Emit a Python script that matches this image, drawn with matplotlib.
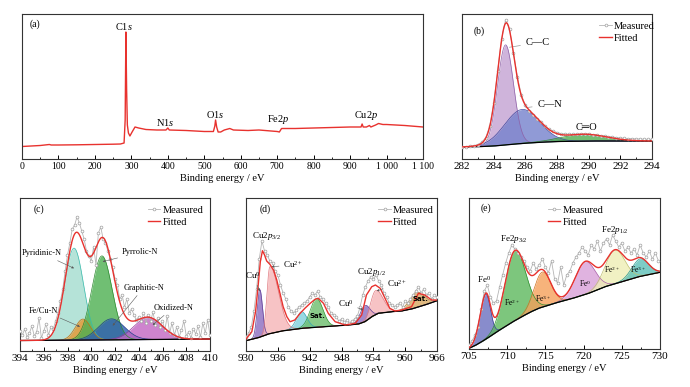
import numpy as np
import matplotlib
matplotlib.use('Agg')
import matplotlib.pyplot as plt
from matplotlib.ticker import MultipleLocator

plt.rcParams['font.family'] = ['Liberation Serif', 'DejaVu Serif']
plt.rcParams['mathtext.fontset'] = 'custom'
plt.rcParams['mathtext.rm'] = 'Liberation Serif'
plt.rcParams['mathtext.it'] = 'Liberation Serif:italic'

# ---- (a) survey spectrum
survey_x = [0, 50, 75, 80, 100, 150, 200, 250, 270, 280, 283, 285, 287, 289, 292, 296, 302,
            310, 320, 340, 370, 395, 400, 404, 450, 500, 525, 529, 531, 534, 538, 545, 555,
            570, 580, 620, 650, 700, 706, 712, 750, 800, 850, 900, 930, 933, 936, 945, 953,
            957, 970, 978, 990, 1000, 1050, 1100]
survey_y = [12.5, 13.5, 14.5, 14, 14, 14.2, 14.5, 14.8, 15, 16, 39, 127, 69, 34, 26, 23, 27,
            32, 31, 29.5, 29, 29, 31, 29, 28.5, 27.5, 27.5, 33, 39, 32, 27, 27, 29,
            30.5, 29, 28.5, 29, 27.5, 27, 30.5, 30.5, 31, 31.5, 32, 32, 35, 32, 32, 33.5,
            32, 34, 35.5, 34.5, 34.5, 33.5, 32]
survey_ticks = [0, 100, 200, 300, 400, 500, 600, 700, 800, 900, 1000, 1100]
survey_ticklabels = ['0', '100', '200', '300', '400', '500', '600', '700', '800', '900',
                     '1 000', '1 100']
survey_labels = [r'C1$\it{s}$', r'N1$\it{s}$', r'O1$\it{s}$', r'Fe2$\it{p}$', r'Cu2$\it{p}$']
survey_label_x = [280, 392, 529, 702, 943]
survey_label_y = [132, 36, 45, 39, 43]

# ---- (b) C1s
b_meas_y = [12.3, 12.4, 12.8, 13.2, 14.5, 16.8, 21.5, 33, 56, 88, 120, 139, 130, 106, 82, 64,
            54, 48.5, 44.5, 40, 37, 33, 30, 28, 26.5, 25.5, 25, 24.8, 24.8, 25, 25, 25, 24.8,
            24.5, 24, 23.5, 23, 22.5, 22, 21.5, 21, 20.8, 20.5, 20.3, 20.1, 20, 19.8, 19.7, 19.6]
b_bg_x = [282, 283, 284, 285, 286, 287, 288, 290, 294]
b_bg_y = [12, 12.3, 13, 14.5, 15.8, 16.8, 17.5, 18, 18]
b_center = [284.75, 285.8, 289.7]
b_height = [100, 34, 6.8]
b_sigma = [0.5, 1.1, 1.4]
b_colors = ['#c4a2d2', '#7481cc', '#4fae4f']
b_edges = ['#8e62a8', '#3f4aa0', '#2f8a2f']

# ---- (c) N1s
c_meas_y = [20, 16, 22, 14, 18, 25, 15, 19, 33, 13, 20, 27, 16, 24, 22, 30, 38, 50, 62, 80,
            96, 108, 122, 126, 134, 128, 120, 112, 100, 95, 90, 104, 86, 118, 124, 112, 108,
            100, 92, 84, 72, 66, 52, 56, 44, 52, 38, 42, 36, 31, 34, 30, 38, 28, 36, 30, 39,
            26, 33, 24, 30, 21, 35, 18, 28, 16, 24, 14, 21, 30, 15, 19, 13, 22, 17, 25, 14,
            28, 18, 31, 16]
c_bg_x = [394, 398, 402, 406, 410]
c_bg_y = [10.5, 10.8, 11.2, 11.6, 12]
c_center = [398.55, 399.3, 400.9, 401.7, 404.8]
c_height = [92, 21, 84, 21, 22]
c_sigma = [0.8, 0.65, 0.85, 1.1, 1.2]
c_colors = ['#a3dccf', '#e8962e', '#4caf50', '#2e5db2', '#c266c2']
c_edges = ['#3cbcae', '#c07010', '#2e8b32', '#1e3f8a', '#9a3a9a']
c_labels = ['Pyridinic-N', 'Pyrrolic-N', 'Graphitic-N', 'Oxidized-N', 'Fe/Cu-N']
c_label_xy = [(395.83, 97.7), (404.1, 98.7), (404.4, 63.3), (406.9, 43.3), (395.96, 40.3)]
c_arrow_xy = [(398.55, 82.7), (400.96, 89.3), (401.8, 25.3), (405.17, 26), (399.05, 24.3)]

# ---- (d) Cu2p
d_meas_y = [14, 18, 24, 40, 62, 92, 110, 100, 96, 90, 88, 80, 76, 66, 58, 52, 44, 40, 38, 41,
            44, 46, 48, 50, 54, 58, 56, 60, 54, 52, 48, 44, 38, 36, 34, 30, 32, 29, 31, 28, 30,
            32, 35, 44, 56, 64, 70, 74, 72, 76, 70, 66, 58, 54, 48, 46, 44, 46, 48, 44, 50, 48,
            52, 56, 60, 64, 58, 62, 56, 58, 52, 56, 54]
d_fit_x = [930, 931.1, 931.8, 932.3, 932.7, 933.1, 933.5, 933.9, 934.5, 935.2, 935.8, 936.4,
           937.0, 937.7, 938.3, 939.2, 940.2, 941.1, 942.1, 943.0, 943.6, 944.6, 945.5, 946.8,
           948.7, 950.6, 951.8, 952.7, 953.7, 954.4, 955.3, 956.2, 957.1, 958.1, 959.3, 961.2,
           962.5, 963.7, 965, 966]
d_fit_y = [12, 19.3, 39.3, 66, 89.3, 100.3, 96, 90, 86.7, 81, 71, 57.7, 44.3, 34.3, 29.3, 31,
           37.7, 42.7, 47.7, 51.7, 52.7, 47.7, 37.7, 29.3, 26, 27.7, 36, 56, 64.3, 66, 62.7,
           52.7, 42.7, 40, 41, 44.3, 57.7, 56, 51, 51]
d_bg_x = [930, 932.3, 934.2, 936.7, 940.5, 944.9, 949.3, 951.2, 952.4, 953.7, 954.9, 957.4,
          959.3, 961.2, 963.7, 966]
d_bg_y = [10.3, 13.3, 17, 20, 22.7, 24.3, 26, 27, 29.3, 34.3, 37.7, 39.3, 40, 42, 46, 50.3]
d_center = [932.6, 934.5, 940.5, 943.3, 952.4, 954.4, 962.2]
d_height = [47.5, 67, 16.6, 28.7, 16, 24, 15]
d_sig_l = [0.5, 0.55, 1.0, 1.2, 0.9, 0.9, 1.4]
d_sig_r = [0.5, 1.6, 1.0, 1.2, 0.9, 1.4, 1.4]
d_colors = ['#8b6cc0', '#f6b4b7', '#7fd0dc', '#6cbd6c', '#8b6cc0', '#f6b4b7', '#d9a860']
d_edges = ['#5e3f96', '#e07a80', '#3aa8b8', '#3a9a3a', '#5e3f96', '#e07a80', '#a87a30']

# ---- (e) Fe2p
e_meas_y = [4, 8, 14, 22, 40, 58, 64, 52, 46, 48, 62, 74, 86, 96, 104, 100, 96, 92, 88, 82,
            78, 86, 80, 84, 90, 82, 76, 88, 70, 66, 82, 64, 74, 78, 86, 92, 96, 102, 98, 94,
            104, 100, 108, 98, 106, 110, 104, 114, 108, 102, 106, 98, 102, 96, 100, 94, 104,
            96, 92, 98, 90, 96, 88]
e_bg_x = [705, 705.8, 706.6, 707.5, 708.6, 709.7, 710.8, 711.9, 713, 714.1, 716.3, 718.5,
          720.6, 722.8, 725, 727.2, 730]
e_bg_y = [0.7, 3.5, 7, 11.3, 17, 22.3, 27.5, 32.3, 36.8, 40.7, 46, 50.5, 55.5, 62.3, 67.3,
          72.3, 76.7]
e_center = [707.2, 711.0, 714.6, 720.2, 724.1, 727.4]
e_height = [45, 70, 35, 32.7, 33.5, 17.5]
e_sig_l = [0.75, 1.3, 1.1, 1.3, 1.3, 1.1]
e_sig_r = [0.6, 1.4, 1.1, 1.3, 1.3, 1.1]
e_colors = ['#6b6fc0', '#5cb85c', '#f5a05a', '#d9a0d9', '#eeeeb4', '#5cc0b8']
e_edges = ['#3a3e98', '#2f8f2f', '#d07020', '#a860a8', '#c0c070', '#2a9890']


def peak(x, c, h, sl, sr):
    s = np.where(x < c, sl, sr)
    return h * np.exp(-(x - c) ** 2 / (2 * s ** 2))


def add_ax(l, r, t, b):
    return fig.add_axes([l / 690, 1 - b / 387, (r - l) / 690, (b - t) / 387])


def style(ax, xlim, ylim, major, minor, fs=8):
    ax.set_xlim(*xlim)
    ax.set_ylim(*ylim)
    ax.set_yticks([])
    ax.xaxis.set_major_locator(MultipleLocator(major))
    ax.xaxis.set_minor_locator(MultipleLocator(minor))
    ax.tick_params(axis='x', which='major', direction='in', length=3, width=0.7,
                   labelsize=fs, pad=2)
    ax.tick_params(axis='x', which='minor', direction='in', length=1.6, width=0.6)
    for s in ax.spines.values():
        s.set_linewidth(0.8)
        s.set_color('#333333')
    ax.set_xlabel('Binding energy / eV', fontsize=7.5, labelpad=2)


def draw_peaks(ax, x, bg, centers, heights, sl, sr, colors, edges):
    for c, h, a, b_, fc, ec in zip(centers, heights, sl, sr, colors, edges):
        p = peak(x, c, h, a, b_)
        ax.fill_between(x, bg, bg + p, color=fc, alpha=0.8, lw=0)
        ax.plot(x, bg + p, color=ec, lw=0.5)
    ax.plot(x, bg, color='black', lw=0.9)


def draw_meas(ax, x, y):
    ax.plot(x, y, '-o', color='#b5b5b5', lw=0.6, ms=2.0, mfc='white', mec='#a0a0a0',
            mew=0.5, label='Measured', zorder=4)


def legend(ax, xa):
    ax.legend(loc='upper left', bbox_to_anchor=(xa, 0.99), frameon=False, fontsize=7.5,
              handlelength=1.2, handletextpad=0.2, labelspacing=0.25, borderaxespad=0.2)


fig = plt.figure(figsize=(6.9, 3.87), dpi=100)

# (a)
ax = add_ax(22, 423, 14, 159)
ax.plot(survey_x, survey_y, color='#e8322e', lw=1.0)
style(ax, (0, 1100), (0, 145), 100, 50, fs=7)
ax.set_xticks(survey_ticks)
ax.set_xticklabels(survey_ticklabels)
for t, lx, ly in zip(survey_labels, survey_label_x, survey_label_y):
    ax.text(lx, ly, t, fontsize=7.5, ha='center', va='center')
ax.text(0.02, 0.93, '(a)', transform=ax.transAxes, fontsize=7, va='center')

# (b)
ax = add_ax(462, 652, 14, 159)
bx = np.linspace(282, 294, 600)
bbg = np.interp(bx, b_bg_x, b_bg_y)
draw_peaks(ax, bx, bbg, b_center, b_height, b_sigma, b_sigma, b_colors, b_edges)
draw_meas(ax, np.arange(282, 294.01, 0.25), b_meas_y)
bfit = bbg + sum(peak(bx, c, h, s, s) for c, h, s in zip(b_center, b_height, b_sigma))
ax.plot(bx, bfit, color='#e8322e', lw=1.0, label='Fitted', zorder=5)
style(ax, (282, 294), (0, 145), 2, 1)
legend(ax, 0.69)
ax.text(0.06, 0.88, '(b)', transform=ax.transAxes, fontsize=7, va='center')
ax.annotate('C—C', xy=(284.82, 111.3), xytext=(286.8, 116.3), fontsize=7.5, ha='center',
            va='center', arrowprops=dict(arrowstyle='-', color='0.6', lw=0.5))
ax.annotate('C—N', xy=(285.85, 51), xytext=(287.56, 54.3), fontsize=7.5, ha='center',
            va='center', arrowprops=dict(arrowstyle='-', color='0.6', lw=0.5))
ax.text(289.88, 31.7, 'C═O', fontsize=7.5, ha='center', va='center',
        family=['Liberation Serif', 'DejaVu Sans'])

# (c)
ax = add_ax(20, 210, 198, 351)
cx = np.linspace(394, 410, 700)
cbg = np.interp(cx, c_bg_x, c_bg_y)
draw_peaks(ax, cx, cbg, c_center, c_height, c_sigma, c_sigma, c_colors, c_edges)
draw_meas(ax, np.arange(394, 410.01, 0.2), c_meas_y)
cfit = cbg + sum(peak(cx, c, h, s, s) for c, h, s in zip(c_center, c_height, c_sigma))
ax.plot(cx, cfit, color='#e8322e', lw=1.0, label='Fitted', zorder=5)
style(ax, (394, 410), (0, 153), 2, 1)
legend(ax, 0.64)
ax.text(0.07, 0.93, '(c)', transform=ax.transAxes, fontsize=7, va='center')
for t, txy, axy in zip(c_labels, c_label_xy, c_arrow_xy):
    ax.annotate(t, xy=axy, xytext=txy, fontsize=6, ha='center', va='center', zorder=6,
                arrowprops=dict(arrowstyle='-|>', color='0.35', lw=0.4, mutation_scale=3,
                                shrinkA=1, shrinkB=0))

# (d)
ax = add_ax(246, 437, 198, 351)
dx = np.linspace(930, 966, 900)
dbg = np.interp(dx, d_bg_x, d_bg_y)
draw_peaks(ax, dx, dbg, d_center, d_height, d_sig_l, d_sig_r, d_colors, d_edges)
draw_meas(ax, np.arange(930, 966.01, 0.5), d_meas_y)
ax.plot(d_fit_x, d_fit_y, color='#e8322e', lw=1.0, label='Fitted', zorder=5)
style(ax, (930, 966), (0, 153), 6, 3)
legend(ax, 0.66)
ax.text(0.07, 0.93, '(d)', transform=ax.transAxes, fontsize=7, va='center')
arr = dict(arrowstyle='-|>', color='0.35', lw=0.4, mutation_scale=3, shrinkA=1, shrinkB=0)
ax.text(933.9, 115.3, r'Cu2$\it{p}_{3/2}$', fontsize=6.5, ha='center', va='center')
ax.text(953.7, 78.7, r'Cu2$\it{p}_{1/2}$', fontsize=6.5, ha='center', va='center')
ax.annotate(r'Cu$^{0}$', xy=(932.64, 60), xytext=(931.19, 75.3), fontsize=6.5, ha='center',
            va='center', arrowprops=arr, zorder=6)
ax.annotate(r'Cu$^{2+}$', xy=(934.84, 84.3), xytext=(938.9, 86), fontsize=6.5, ha='center',
            va='center', arrowprops=arr, zorder=6)
ax.annotate(r'Cu$^{0}$', xy=(952.1, 41), xytext=(948.8, 47.7), fontsize=6.5, ha='center',
            va='center', arrowprops=arr, zorder=6)
ax.annotate(r'Cu$^{2+}$', xy=(954.63, 60), xytext=(958.5, 67.3), fontsize=6.5, ha='center',
            va='center', arrowprops=arr, zorder=6)
for sx, sy in [(943.44, 35.3), (962.8, 52)]:
    ax.text(sx, sy, 'Sat.', fontsize=5, ha='center', va='center', family='DejaVu Sans',
            weight='bold', zorder=6)

# (e)
ax = add_ax(469, 660, 198, 349)
ex = np.linspace(705, 730, 800)
ebg = np.interp(ex, e_bg_x, e_bg_y)
draw_peaks(ax, ex, ebg, e_center, e_height, e_sig_l, e_sig_r, e_colors, e_edges)
draw_meas(ax, np.arange(705, 730.01, 0.4), e_meas_y)
efit = ebg + sum(peak(ex, c, h, a, b_) for c, h, a, b_ in
                 zip(e_center, e_height, e_sig_l, e_sig_r))
ax.plot(ex, efit, color='#e8322e', lw=1.0, label='Fitted', zorder=5)
style(ax, (705, 730), (0, 151), 5, 2.5)
legend(ax, 0.38)
ax.text(0.06, 0.93, '(e)', transform=ax.transAxes, fontsize=7, va='center')
ax.text(707.0, 69.7, r'Fe$^{0}$', fontsize=6.5, ha='center', va='center', zorder=6)
ax.text(710.93, 109.7, r'Fe2$\it{p}_{3/2}$', fontsize=6.5, ha='center', va='center', zorder=6)
ax.text(724.1, 119, r'Fe2$\it{p}_{1/2}$', fontsize=6.5, ha='center', va='center', zorder=6)
for t, lx, ly in [(r'Fe$^{2+}$', 710.67, 46.7), (r'Fe$^{3+}$', 714.73, 50),
                  (r'Fe$^{0}$', 720.18, 65.7), (r'Fe$^{2+}$', 723.68, 79.7),
                  (r'Fe$^{3+}$', 727.16, 79.7)]:
    ax.text(lx, ly, t, fontsize=5.5, ha='center', va='center', zorder=6)

fig.savefig('out.png', dpi=100)
